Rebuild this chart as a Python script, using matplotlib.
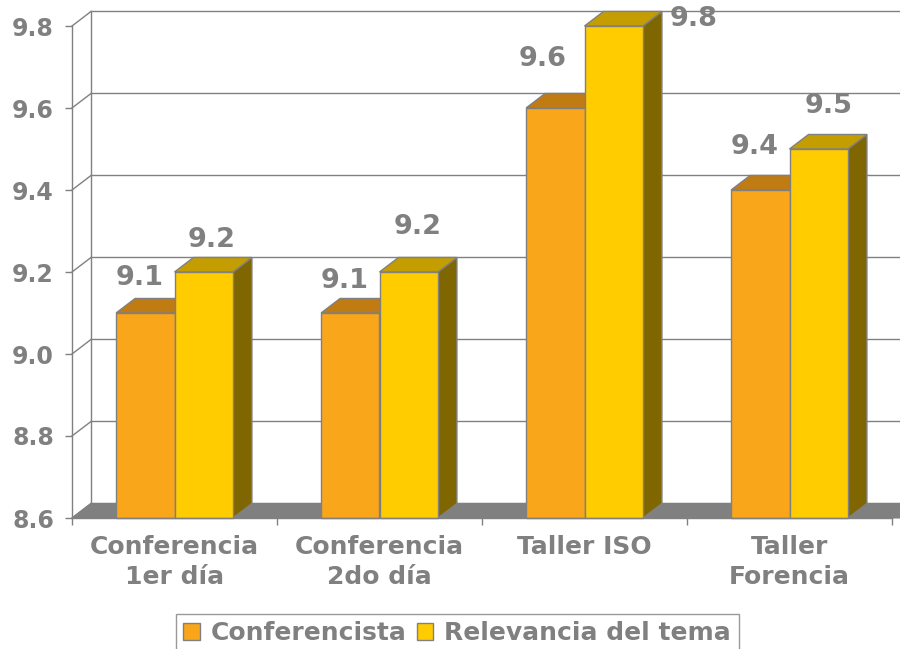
import matplotlib
matplotlib.use("Agg")
import matplotlib.pyplot as plt
from matplotlib.patches import Polygon, Patch

# data
categories = ["Conferencia\n1er día", "Conferencia\n2do día", "Taller ISO", "Taller\nForencia"]
conferencista = [9.1, 9.1, 9.6, 9.4]
relevancia = [9.2, 9.2, 9.8, 9.5]
series_names = ["Conferencista", "Relevancia del tema"]
y_ticks = [8.6, 8.8, 9.0, 9.2, 9.4, 9.6, 9.8]

# style
gray = "#808080"
front = ["#F9A61A", "#FFCC00"]
top = ["#C07B12", "#C49E00"]
side = ["#9A6210", "#806600"]
base = 8.6
w = 0.285
dx, dy = 0.0927, 0.0354
# label offsets in pixels (x, y) per series / category
lab_off = [[(-6, 35), (-6, 32), (-13, 49), (-6, 43)],
           [(8, 32), (9, 45), (80, 7), (10, 43)]]

plt.rcParams["font.family"] = "DejaVu Sans"
fig = plt.figure(figsize=(9, 6.49), dpi=100)
ax = fig.add_axes([72 / 900, 131 / 649, 820 / 900, 492 / 649])
ax.set_xlim(0, 4)
ax.set_ylim(base, y_ticks[-1])
ax.patch.set_visible(False)
for s in ["top", "right"]:
    ax.spines[s].set_visible(False)
for s in ["left", "bottom"]:
    ax.spines[s].set_color(gray)
    ax.spines[s].set_linewidth(1)
    ax.spines[s].set_zorder(6)

# back wall, left wall
for t in y_ticks:
    ax.plot([dx, 4 + dx + 0.2], [t + dy, t + dy], color=gray, lw=1, zorder=1, clip_on=False)
    ax.plot([0, dx], [t, t + dy], color=gray, lw=1, zorder=1, clip_on=False)
ax.plot([dx, dx], [base + dy, y_ticks[-1] + dy], color=gray, lw=1, zorder=1, clip_on=False)

# floor
ax.add_patch(Polygon([(0, base), (4 + 0.2, base), (4 + 0.2 + dx, base + dy), (dx, base + dy)],
                     closed=True, facecolor=gray, edgecolor=gray, lw=0.8, zorder=2, clip_on=False))

# bars
for k, vals in enumerate([conferencista, relevancia]):
    xs = [i + 0.5 + (k - 0.5) * w for i in range(len(vals))]
    ax.bar(xs, [v - base for v in vals], bottom=base, width=w, color=front[k],
           edgecolor=gray, linewidth=1, zorder=3 + 2 * k, clip_on=False)
    for i, (x, v) in enumerate(zip(xs, vals)):
        x0, x1 = x - w / 2, x + w / 2
        ax.add_patch(Polygon([(x0, v), (x1, v), (x1 + dx, v + dy), (x0 + dx, v + dy)],
                             facecolor=top[k], edgecolor=gray, lw=1, zorder=2.9 + 2 * k, clip_on=False))
        ax.add_patch(Polygon([(x1, base), (x1 + dx, base + dy), (x1 + dx, v + dy), (x1, v)],
                             facecolor=side[k], edgecolor=gray, lw=1, zorder=2.8 + 2 * k, clip_on=False))
        ax.annotate(f"{v:.1f}", xy=(x, v), xytext=lab_off[k][i], textcoords="offset pixels",
                    ha="center", va="center", fontsize=19.5, fontweight="bold", color=gray,
                    zorder=10, annotation_clip=False)

# ticks
ax.set_yticks(y_ticks)
ax.set_yticklabels([f"{t:.1f}" for t in y_ticks])
ax.tick_params(axis="y", direction="out", length=5, width=1, color=gray, pad=8,
               labelsize=17, labelcolor=gray)
for lab in ax.get_yticklabels():
    lab.set_fontweight("bold")
ax.set_xticks(range(5))
ax.set_xticklabels([])
ax.set_xticks([i + 0.5 for i in range(4)], minor=True)
ax.set_xticklabels(categories, minor=True)
ax.tick_params(axis="x", which="major", direction="out", length=5, width=1, color=gray)
ax.tick_params(axis="x", which="minor", length=0, pad=12, labelsize=18, labelcolor=gray)
for lab in ax.get_xticklabels(minor=True):
    lab.set_fontweight("bold")
    lab.set_linespacing(1.35)

handles = [Patch(facecolor=front[k], edgecolor=gray, lw=1) for k in range(2)]
leg = fig.legend(handles, series_names, loc="upper center", bbox_to_anchor=(0.508, 1 - 614 / 649),
                 ncol=2, frameon=True, fancybox=False, borderaxespad=0, handlelength=0.65,
                 handleheight=0.65, handletextpad=0.45, columnspacing=0.4, borderpad=0.3,
                 prop={"size": 18, "weight": "bold"})
leg.get_frame().set_edgecolor(gray)
leg.get_frame().set_linewidth(1)
for t in leg.get_texts():
    t.set_color(gray)

fig.savefig("out.png", dpi=100)
